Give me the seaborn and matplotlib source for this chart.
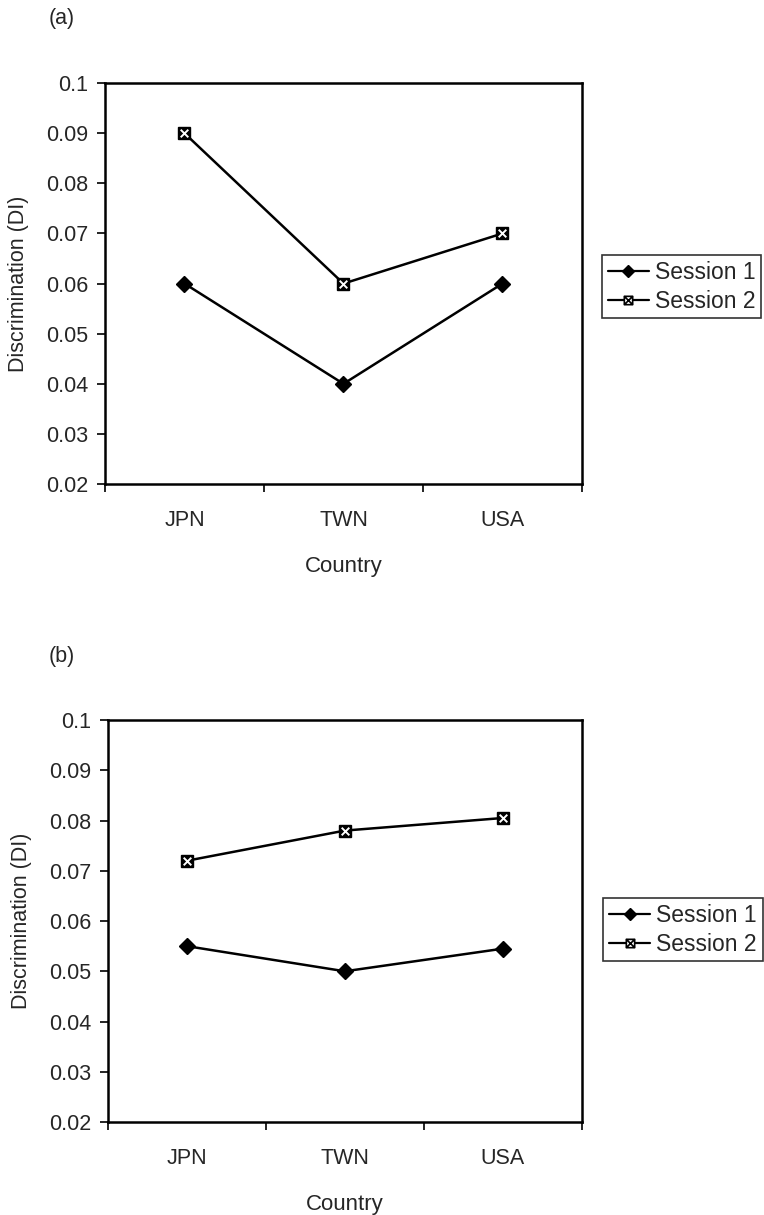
import numpy as np
import pandas as pd
import matplotlib
matplotlib.use("Agg")
import matplotlib.pyplot as plt
from matplotlib.path import Path
import seaborn as sns

countries = ["JPN", "TWN", "USA"]
sessions = ["Session 1", "Session 2"]
panel_a_s1 = [0.060, 0.040, 0.060]
panel_a_s2 = [0.090, 0.060, 0.070]
panel_b_s1 = [0.055, 0.050, 0.0545]
panel_b_s2 = [0.072, 0.078, 0.0805]
yticks = [0.02, 0.03, 0.04, 0.05, 0.06, 0.07, 0.08, 0.09, 0.10]
ytick_labels = ["0.02", "0.03", "0.04", "0.05", "0.06", "0.07", "0.08", "0.09", "0.1"]
panel_labels = ["(a)", "(b)"]
xlabel = "Country"
ylabel = "Discrimination (DI)"

sns.set_style("ticks")
plt.rcParams["font.family"] = ["Liberation Sans", "DejaVu Sans"]

# square-with-X marker
verts = [(-1, -1), (1, -1), (1, 1), (-1, 1), (-1, -1),
         (-1, -1), (1, 1), (-1, 1), (1, -1)]
codes = [Path.MOVETO, Path.LINETO, Path.LINETO, Path.LINETO, Path.CLOSEPOLY,
         Path.MOVETO, Path.LINETO, Path.MOVETO, Path.LINETO]
box_x = Path(verts, codes)

fig = plt.figure(figsize=(7.64, 12.15), dpi=100)
ax_pos = [[0.1374, 0.6016, 0.6243, 0.330], [0.1414, 0.0765, 0.620, 0.3309]]
legend_anchor = [(1.042, 0.571), (1.046, 0.557)]
label_pos = [(-0.09, 1.162), (-0.097, 1.157)]
data_sets = [(panel_a_s1, panel_a_s2), (panel_b_s1, panel_b_s2)]

for i, (s1, s2) in enumerate(data_sets):
    ax = fig.add_axes(ax_pos[i])
    df = pd.DataFrame({
        "Country": countries * 2,
        "x": list(range(len(countries))) * 2,
        "DI": list(s1) + list(s2),
        "Session": [sessions[0]] * 3 + [sessions[1]] * 3,
    })
    sns.lineplot(data=df, x="x", y="DI", style="Session",
                 markers={"Session 1": "D", "Session 2": "s"},
                 dashes=False, color="black", linewidth=1.8, markersize=9,
                 markeredgecolor="black", markeredgewidth=1.0, ax=ax)
    lines = ax.get_lines()
    lines[0].set_markerfacecolor("black")
    lines[0].set_markersize(8)
    lines[1].set_markerfacecolor("black")
    lines[1].set_markersize(8)
    # white X inside the black squares of Session 2
    df2 = df[df["Session"] == sessions[1]]
    sns.scatterplot(data=df2, x="x", y="DI", marker="x", color="white", s=30,
                    linewidth=1.4, ax=ax, legend=False, zorder=5)

    ax.set_xlim(-0.5, 2.5)
    ax.set_ylim(0.02, 0.10)
    ax.set_yticks(yticks)
    ax.set_yticklabels(ytick_labels, fontsize=15.5)
    ax.set_xticks([-0.5, 0.5, 1.5, 2.5])
    ax.set_xticklabels([])
    ax.set_xticks([0, 1, 2], minor=True)
    ax.set_xticklabels(countries, minor=True, fontsize=15.5)
    ax.tick_params(axis="x", which="minor", length=0, pad=19)
    ax.tick_params(axis="x", which="major", length=6, width=1.2, direction="out", color="black")
    ax.tick_params(axis="y", length=6, width=1.2, direction="out", color="black", pad=6)
    for sp in ax.spines.values():
        sp.set_visible(True)
        sp.set_linewidth(1.8)
        sp.set_color("black")
    ax.set_xlabel(xlabel, fontsize=16, labelpad=18)
    ax.set_ylabel(ylabel, fontsize=15.5, labelpad=12)

    handles, labels = ax.get_legend_handles_labels()
    for h in handles:
        h.set_color("black")
        h.set_linewidth(1.6)
    handles[0].set_markerfacecolor("black")
    handles[0].set_markersize(6)
    if len(handles) > 1:
        handles[1].set_marker(box_x)
        handles[1].set_markerfacecolor("white")
        handles[1].set_markersize(6)
        handles[1].set_markeredgewidth(1.2)
    leg = ax.legend(handles, labels, loc="upper left", bbox_to_anchor=legend_anchor[i],
                    borderaxespad=0, frameon=True, fancybox=False, fontsize=16.5,
                    handlelength=1.8, handletextpad=0.25, labelspacing=0.25,
                    borderpad=0.25)
    leg.get_frame().set_edgecolor("black")
    leg.get_frame().set_linewidth(1.2)
    ax.text(label_pos[i][0], label_pos[i][1], panel_labels[i], transform=ax.transAxes,
            fontsize=15.5, ha="center", va="center")

fig.savefig("out.png", dpi=100)
